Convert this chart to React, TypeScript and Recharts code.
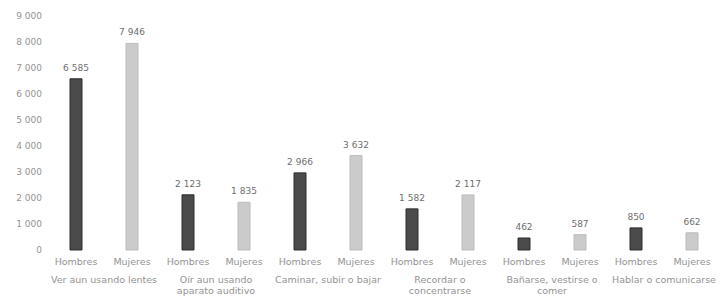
import React from "react";
import { BarChart, Bar, XAxis, YAxis, Cell, LabelList } from "recharts";

const genders = ["Hombres", "Mujeres", "Hombres", "Mujeres", "Hombres", "Mujeres", "Hombres", "Mujeres", "Hombres", "Mujeres", "Hombres", "Mujeres"];
const groupLabels = [
  "Ver aun usando lentes",
  "Oír aun usando\naparato auditivo",
  "Caminar, subir o bajar",
  "Recordar o\nconcentrarse",
  "Bañarse, vestirse o\ncomer",
  "Hablar o comunicarse",
];
const values = [6585, 7946, 2123, 1835, 2966, 3632, 1582, 2117, 462, 587, 850, 662];
const yTicks = [0, 1000, 2000, 3000, 4000, 5000, 6000, 7000, 8000, 9000];

const data = values.map((v, i) => ({ key: i, gender: genders[i], value: v }));

const fmt = (v: number) => String(v).replace(/\B(?=(\d{3})+(?!\d))/g, "\u00a0");

const FONT = "'DejaVu Sans', sans-serif";
const TXT = "#939393";
const BAND = 56;

const XTick = (props: any) => {
  const { x, y, payload } = props;
  const idx = payload.index;
  const g = genders[idx];
  const out: any[] = [
    <text key="g" x={x} y={y} dy={15} textAnchor="middle" fontSize={9.5} fill={TXT} fontFamily={FONT}>
      {g}
    </text>,
  ];
  if (idx % 2 === 0) {
    const lines = groupLabels[idx / 2].split("\n");
    out.push(
      <text key="l" x={x + BAND / 2} y={y} textAnchor="middle" fontSize={9.5} fill={TXT} fontFamily={FONT}>
        {lines.map((ln, k) => (
          <tspan key={k} x={x + BAND / 2} dy={k === 0 ? 33 : 11}>
            {ln}
          </tspan>
        ))}
      </text>
    );
  }
  return <g>{out}</g>;
};

export default function App() {
  return (
    <div style={{ position: "absolute", left: 0, top: 0, background: "#fff" }}>
      <BarChart
        width={720}
        height={297}
        data={data}
        margin={{ top: 16, right: 0, bottom: 0, left: 0 }}
        barCategoryGap={0}
      >
        <XAxis
          dataKey="key"
          axisLine={false}
          tickLine={false}
          tickSize={0}
          tickMargin={0}
          height={47}
          interval={0}
          tick={<XTick />}
        />
        <YAxis
          width={48}
          domain={[0, 9000]}
          ticks={yTicks}
          axisLine={false}
          tickLine={false}
          tickSize={0}
          tickMargin={6}
          tickFormatter={fmt}
          tick={{ fontSize: 9, fill: TXT, fontFamily: FONT }}
        />
        <Bar dataKey="value" barSize={12} isAnimationActive={false}>
          {data.map((d, i) => (
            <Cell
              key={i}
              fill={d.gender === "Hombres" ? "#4b4b4b" : "#cbcbcb"}
              stroke={d.gender === "Hombres" ? "#2e2e2e" : "#bbbbbb"}
              strokeWidth={1}
            />
          ))}
          <LabelList
            dataKey="value"
            position="top"
            offset={8}
            formatter={(v: any) => fmt(v)}
            style={{ fontSize: 9, fill: "#6e6e6e", fontFamily: FONT }}
          />
        </Bar>
      </BarChart>
    </div>
  );
}
